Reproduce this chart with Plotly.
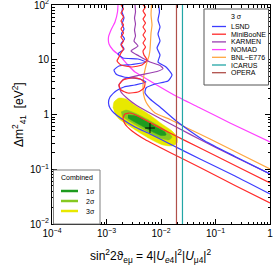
import numpy as np
import plotly.graph_objects as go

# ---------------- data (log10 of sin^2 2theta, log10 of dm2 [eV^2]) ----------------
nomad_log_s = [-2.789, -2.798, -2.844, -2.917, -2.963, -2.954, -2.881, -2.752, -2.606, -2.477,
               -2.294, -2.110, -1.743, -1.284, -0.734, 0.0]
nomad_log_dm2 = [2.000, 1.872, 1.690, 1.543, 1.416, 1.288, 1.178, 1.069, 0.904, 0.776,
                 0.667, 0.557, 0.347, 0.119, -0.155, -0.502]

bnl_log_s = [-2.174, -2.183, -2.165, -2.183, -2.193, -2.202, -2.220, -2.257, -2.294, -2.321,
             -2.330, -2.321, -2.275, -2.202, -2.110, -1.835, -1.560, -1.101, -0.550, 0.0]
bnl_log_dm2 = [2.000, 1.817, 1.635, 1.489, 1.324, 1.178, 1.069, 0.959, 0.813, 0.667,
               0.521, 0.374, 0.228, 0.119, 0.027, -0.091, -0.228, -0.447, -0.721, -0.995]

karmen_log_s = [-2.477, -2.468, -2.486, -2.468, -2.486, -2.468, -2.495, -2.422, -2.550, -2.404,
                -2.202, -2.018, -1.963, -2.073, -2.385, -2.679, -2.771, -2.734, -2.606, -2.459,
                -2.202, -1.927, -1.651, -1.284, -0.642, 0.0]
karmen_log_dm2 = [2.000, 1.872, 1.763, 1.653, 1.543, 1.434, 1.342, 1.251, 1.160, 1.069,
                  0.959, 0.895, 0.840, 0.785, 0.721, 0.648, 0.539, 0.411, 0.283, 0.174,
                  0.027, -0.119, -0.265, -0.457, -0.776, -1.087]

lsnd_left_log_s = [0.0, -0.642, -1.284, -1.835, -2.202, -2.477, -2.716, -2.862, -2.936, -2.963,
                   -2.936, -2.826, -2.679, -2.477, -2.275, -2.385, -2.679, -2.826, -2.862, -2.771,
                   -2.532, -2.275, -2.422, -2.697, -2.789, -2.679, -2.734, -2.670, -2.725, -2.679,
                   -2.716, -2.679, -2.716, -2.697]
lsnd_left_log_dm2 = [-1.452, -1.123, -0.813, -0.539, -0.356, -0.228, -0.082, 0.027, 0.119, 0.210,
                     0.320, 0.429, 0.502, 0.539, 0.594, 0.648, 0.685, 0.740, 0.813, 0.886,
                     0.913, 0.959, 1.014, 1.032, 1.105, 1.196, 1.288, 1.379, 1.470, 1.562,
                     1.653, 1.763, 1.872, 2.000]

lsnd_right_log_s = [-2.046, -2.028, -2.055, -2.018, -2.055, -2.018, -2.073, -2.018, -2.055, -1.908,
                    -1.798, -1.872, -2.110, -2.275, -2.294, -2.202, -2.018, -1.743, -1.468, -1.193,
                    -0.642, 0.0]
lsnd_right_log_dm2 = [2.000, 1.872, 1.726, 1.598, 1.470, 1.342, 1.215, 1.087, 0.959, 0.868,
                      0.721, 0.612, 0.557, 0.484, 0.393, 0.283, 0.137, -0.100, -0.301, -0.484,
                      -0.767, -1.087]

mb_low_log_s = [0.0, -0.642, -1.284, -1.835, -2.202, -2.422, -2.569, -2.661, -2.697, -2.661,
                -2.532, -2.294, -1.835, -1.284, -0.642, 0.0]
mb_low_log_dm2 = [-1.251, -0.932, -0.612, -0.338, -0.146, -0.027, 0.027, 0.009, -0.064, -0.174,
                  -0.301, -0.457, -0.694, -0.968, -1.297, -1.616]

mb_high_log_s = [-2.734, -2.688, -2.734, -2.688, -2.734, -2.688, -2.734, -2.688, -2.734, -2.688,
                 -2.734, -2.688, -2.734, -2.771, -2.807, -2.734, -2.532, -2.349, -2.257, -2.312,
                 -2.330, -2.284, -2.330, -2.284, -2.330, -2.284, -2.330, -2.284, -2.330, -2.284,
                 -2.330, -2.284, -2.330]
mb_high_log_dm2 = [2.000, 1.927, 1.854, 1.781, 1.708, 1.635, 1.562, 1.489, 1.416, 1.342,
                   1.269, 1.196, 1.123, 1.050, 0.977, 0.904, 0.868, 0.904, 0.995, 1.087,
                   1.160, 1.233, 1.306, 1.379, 1.452, 1.525, 1.598, 1.671, 1.744, 1.817,
                   1.890, 1.963, 2.000]

mb_loop_log_s = [-2.532, -2.385, -2.294, -2.312, -2.422, -2.606, -2.734, -2.771, -2.697, -2.532]
mb_loop_log_dm2 = [0.667, 0.648, 0.575, 0.484, 0.411, 0.393, 0.447, 0.539, 0.630, 0.667]

opera_log_s = [-1.716, -1.716]
opera_log_dm2 = [-2.0, 2.0]
icarus_log_s = [-1.606, -1.606]
icarus_log_dm2 = [-2.0, 2.0]

comb3_log_s = [-2.881, -2.862, -2.771, -2.642, -2.459, -2.202, -1.982, -1.798, -1.706, -1.706,
               -1.798, -1.963, -2.165, -2.385, -2.606, -2.771, -2.844]
comb3_log_dm2 = [0.119, 0.228, 0.301, 0.283, 0.155, -0.009, -0.174, -0.301, -0.411, -0.521,
                 -0.575, -0.557, -0.466, -0.338, -0.192, -0.082, 0.009]
comb2_log_s = [-2.734, -2.642, -2.477, -2.257, -2.037, -1.872, -1.798, -1.853, -2.018, -2.239,
               -2.459, -2.642, -2.716]
comb2_log_dm2 = [0.046, 0.082, 0.027, -0.082, -0.210, -0.320, -0.411, -0.466, -0.429, -0.320,
                 -0.192, -0.082, -0.027]
comb1_log_s = [-2.606, -2.459, -2.275, -2.092, -1.927, -1.908, -2.000, -2.165, -2.349, -2.514,
               -2.606]
comb1_log_dm2 = [-0.009, -0.027, -0.119, -0.228, -0.320, -0.374, -0.384, -0.311, -0.210, -0.119,
                 -0.064]
bestfit_log_s = [-2.202]
bestfit_log_dm2 = [-0.247]

exp_names = ["LSND", "MiniBooNE", "KARMEN", "NOMAD", "BNL\u2212E776", "ICARUS", "OPERA"]
exp_colors = ["#3c3cff", "#ff2a2a", "#9a3fb0", "#ff40ff", "#ffa640", "#22a6a6", "#b0504a"]
comb_names = ["1\u03c3", "2\u03c3", "3\u03c3"]
comb_colors = ["#1e9b1e", "#86c820", "#e8e800"]

x_tick_vals = [1e-4, 1e-3, 1e-2, 1e-1, 1]
x_tick_text = ["10<sup>\u22124</sup>", "10<sup>\u22123</sup>", "10<sup>\u22122</sup>", "10<sup>\u22121</sup>", "1"]
y_tick_vals = [1e-2, 1e-1, 1, 10, 100]
y_tick_text = ["10<sup>\u22122</sup>", "10<sup>\u22121</sup>", "1", "10", "10<sup>2</sup>"]


def p(a):
    return 10 ** np.array(a, dtype=float)


fig = go.Figure()

# combined filled regions
for ls_, lm_, col in [(comb3_log_s, comb3_log_dm2, comb_colors[2]),
                      (comb2_log_s, comb2_log_dm2, comb_colors[1]),
                      (comb1_log_s, comb1_log_dm2, comb_colors[0])]:
    fig.add_trace(go.Scatter(x=p(ls_), y=p(lm_), fill="toself", fillcolor=col,
                             line=dict(color=col, width=0.5, shape="spline", smoothing=0.6),
                             mode="lines", showlegend=False, hoverinfo="skip"))

lw = 1.2
curves = [
    (nomad_log_s, nomad_log_dm2, exp_colors[3]),
    (bnl_log_s, bnl_log_dm2, exp_colors[4]),
    (karmen_log_s, karmen_log_dm2, exp_colors[2]),
    (lsnd_left_log_s, lsnd_left_log_dm2, exp_colors[0]),
    (lsnd_right_log_s, lsnd_right_log_dm2, exp_colors[0]),
    (mb_low_log_s, mb_low_log_dm2, exp_colors[1]),
    (mb_high_log_s, mb_high_log_dm2, exp_colors[1]),
    (mb_loop_log_s, mb_loop_log_dm2, exp_colors[1]),
    (opera_log_s, opera_log_dm2, exp_colors[6]),
    (icarus_log_s, icarus_log_dm2, exp_colors[5]),
]
for ls_, lm_, col in curves:
    fig.add_trace(go.Scatter(x=p(ls_), y=p(lm_), mode="lines",
                             line=dict(color=col, width=lw, shape="spline", smoothing=0.5),
                             showlegend=False, hoverinfo="skip"))

fig.add_trace(go.Scatter(x=p(bestfit_log_s), y=p(bestfit_log_dm2), mode="markers",
                         marker=dict(symbol="cross-thin", size=7, line=dict(color="black", width=1)),
                         showlegend=False, hoverinfo="skip"))

# ---------------- layout helpers (pixel -> paper) ----------------
L, R, T, B = 52, 270, 5, 224


def px_x(v):
    return (v - L) / (R - L)


def px_y(v):
    return (B - v) / (B - T)


shapes = []
annotations = []
font_family = "Liberation Sans, Arial, sans-serif"
leg_size = 7

# 3 sigma legend
shapes.append(dict(type="rect", xref="paper", yref="paper", x0=px_x(204), x1=px_x(268.5),
                   y0=px_y(85), y1=px_y(9), line=dict(color="#555555", width=1), fillcolor="white",
                   layer="above"))
annotations.append(dict(xref="paper", yref="paper", x=px_x(236), y=px_y(16.5), text="3 \u03c3",
                        showarrow=False, font=dict(size=leg_size, color="black", family=font_family),
                        xanchor="center", yanchor="middle"))
for i, (nm, col) in enumerate(zip(exp_names, exp_colors)):
    yy = 26.5 + 7.7 * i
    shapes.append(dict(type="line", xref="paper", yref="paper", x0=px_x(212), x1=px_x(226),
                       y0=px_y(yy), y1=px_y(yy), line=dict(color=col, width=1.3), layer="above"))
    annotations.append(dict(xref="paper", yref="paper", x=px_x(229), y=px_y(yy), text=nm,
                            showarrow=False, font=dict(size=leg_size, color="black", family=font_family),
                            xanchor="left", yanchor="middle"))

# Combined legend
shapes.append(dict(type="rect", xref="paper", yref="paper", x0=px_x(53.5), x1=px_x(100),
                   y0=px_y(224), y1=px_y(170), line=dict(color="#808080", width=1), fillcolor="white",
                   layer="above"))
annotations.append(dict(xref="paper", yref="paper", x=px_x(77), y=px_y(177.5), text="Combined",
                        showarrow=False, font=dict(size=leg_size, color="black", family=font_family),
                        xanchor="center", yanchor="middle"))
for i, (nm, col) in enumerate(zip(comb_names, comb_colors)):
    yy = 191 + 10 * i
    shapes.append(dict(type="line", xref="paper", yref="paper", x0=px_x(61), x1=px_x(78),
                       y0=px_y(yy), y1=px_y(yy), line=dict(color=col, width=2.5), layer="above"))
    annotations.append(dict(xref="paper", yref="paper", x=px_x(84), y=px_y(yy), text=nm,
                            showarrow=False, font=dict(size=leg_size, color="black", family=font_family),
                            xanchor="left", yanchor="middle"))

# axis titles
annotations.append(dict(xref="paper", yref="paper", x=px_x(150), y=px_y(256),
                        text="sin<sup>2</sup>2\u03d1<sub>e\u03bc</sub> = 4|<i>U</i><sub><i>e</i>4</sub>|<sup>2</sup>|<i>U</i><sub>\u03bc4</sub>|<sup>2</sup>",
                        showarrow=False, font=dict(size=12, color="black", family=font_family),
                        xanchor="center", yanchor="middle"))
annotations.append(dict(xref="paper", yref="paper", x=px_x(19), y=px_y(115),
                        text="\u0394m<sup>2</sup><sub>41</sub>  [eV<sup>2</sup>]", textangle=-90,
                        showarrow=False, font=dict(size=12, color="black", family=font_family),
                        xanchor="center", yanchor="middle"))

x_minor = [m * 10.0 ** e for e in range(-4, 0) for m in range(2, 10)]
y_minor = [m * 10.0 ** e for e in range(-2, 2) for m in range(2, 10)]

fig.update_layout(
    width=275, height=268,
    margin=dict(l=L, r=275 - R, t=T, b=268 - B, autoexpand=False),
    paper_bgcolor="white", plot_bgcolor="white",
    font=dict(family=font_family, size=10, color="black"),
    shapes=shapes, annotations=annotations,
    xaxis=dict(type="log", range=[-4, 0], showgrid=False, zeroline=False, automargin=False,
               showline=True, linecolor="black", linewidth=1, mirror="ticks",
               ticks="inside", ticklen=5, tickcolor="black", tickwidth=1,
               tickmode="array", tickvals=x_tick_vals, ticktext=x_tick_text,
               tickfont=dict(size=10), ticklabeloverflow="allow",
               minor=dict(ticks="inside", ticklen=2.5, tickcolor="black", tickvals=x_minor, showgrid=False)),
    yaxis=dict(type="log", range=[-2, 2], showgrid=False, zeroline=False, automargin=False,
               showline=True, linecolor="black", linewidth=1, mirror="ticks",
               ticks="inside", ticklen=5, tickcolor="black", tickwidth=1,
               tickmode="array", tickvals=y_tick_vals, ticktext=y_tick_text,
               tickfont=dict(size=10), ticklabeloverflow="allow",
               minor=dict(ticks="inside", ticklen=2.5, tickcolor="black", tickvals=y_minor, showgrid=False)),
)

fig.write_html("out.html", config={"displayModeBar": False},
               post_script="document.body.style.margin='0px';document.body.style.overflow='hidden';")
